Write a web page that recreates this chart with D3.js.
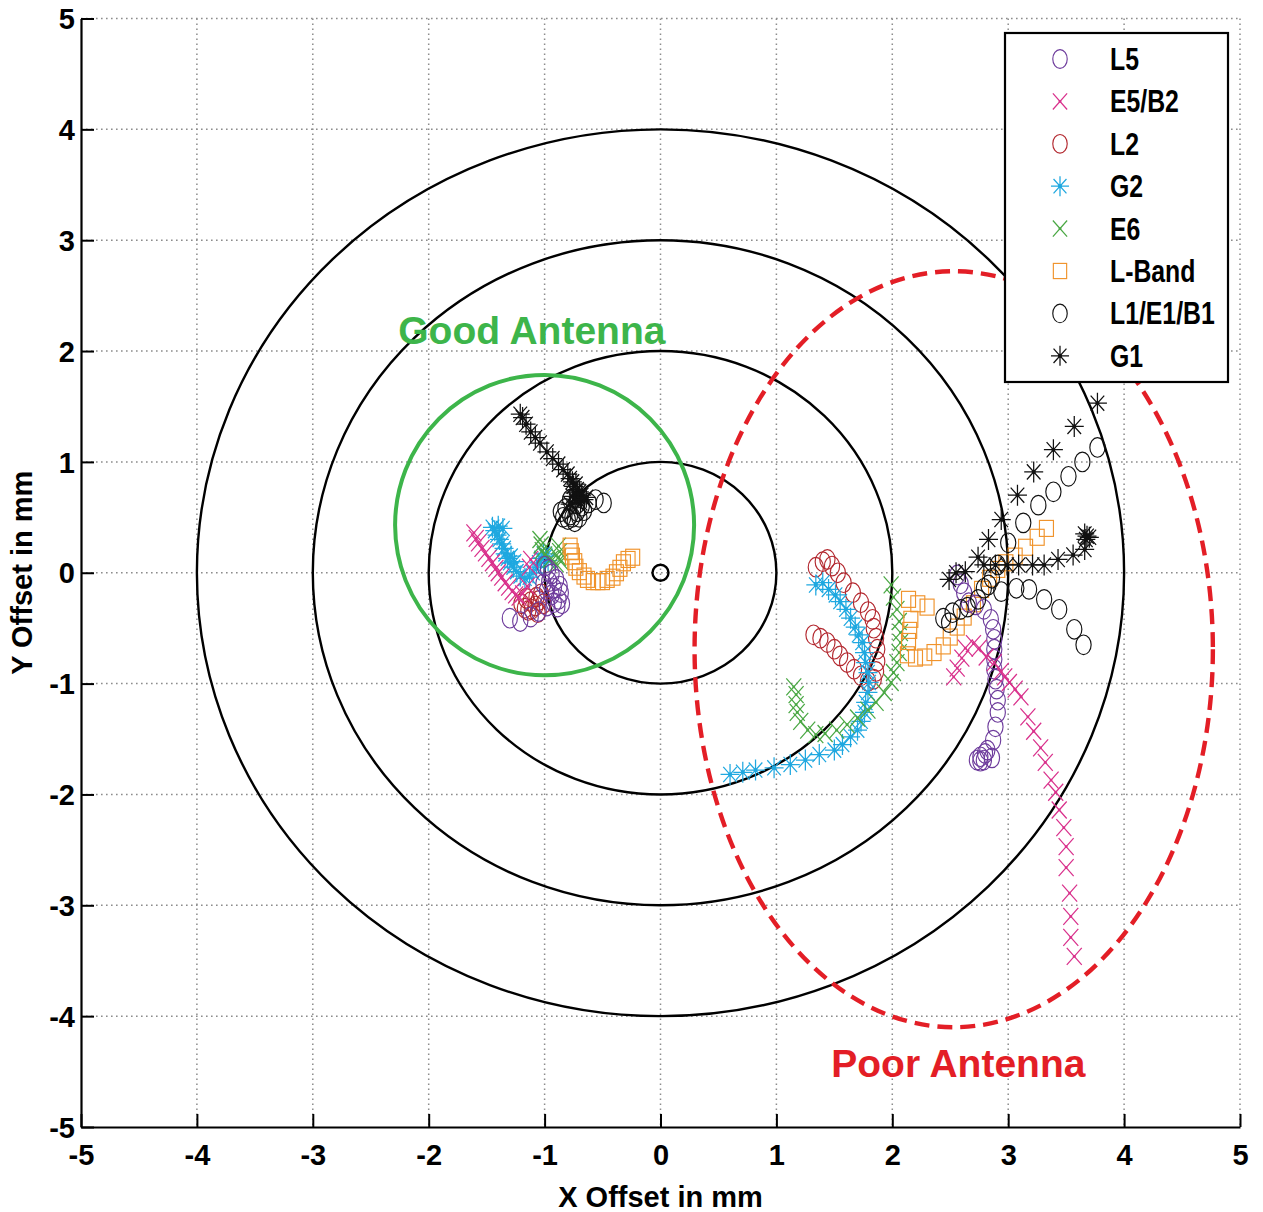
<!DOCTYPE html>
<html><head><meta charset="utf-8">
<script src="https://cdn.jsdelivr.net/npm/d3@7"></script>
<style>body{margin:0;background:#fff}svg{display:block}</style>
</head><body><svg id="chart" width="1263" height="1212"></svg>
<script>
const xTicks=[-5,-4,-3,-2,-1,0,1,2,3,4,5];
const yTicks=[-5,-4,-3,-2,-1,0,1,2,3,4,5];
const ringRadii=[1,2,3,4];
const seriesNames=["L5","E5/B2","L2","G2","E6","L-Band","L1/E1/B1","G1"];
const seriesColors=["#6e3c9c","#d9318c","#b3282f","#1fa8e0","#4aa844","#f0932b","#111111","#111111"];
const seriesMarkers=["circle","x","circle","star","x","square","circle","star"];

const L5=[[-1.30,-0.41],[-1.21,-0.44],[-1.12,-0.40],[-1.05,-0.35],[-0.98,-0.30],[-0.92,-0.27],[-0.88,-0.24],[-0.86,-0.18],[-0.87,-0.12],[-0.90,-0.06],[-0.94,-0.01],[-0.97,0.03],[-1.00,0.06],[-0.96,-0.08],[-0.92,-0.14],[-0.94,-0.20],[-0.98,-0.16],[-1.01,-0.10],[-0.85,-0.28],[-0.89,-0.31],
 [2.56,-0.02],[2.59,-0.10],[2.62,-0.18],[2.66,-0.27],[2.72,-0.29],[2.79,-0.33],[2.85,-0.42],[2.87,-0.51],[2.88,-0.60],[2.88,-0.69],[2.88,-0.78],[2.88,-0.87],[2.89,-0.96],[2.90,-1.05],[2.91,-1.15],[2.91,-1.26],[2.89,-1.39],[2.87,-1.51],[2.82,-1.60],[2.76,-1.66],[2.73,-1.69],[2.79,-1.69],[2.86,-1.67],[2.80,-1.63],[2.76,-1.70]];
const E5B2=[[-1.61,0.36],[-1.59,0.31],[-1.57,0.27],[-1.54,0.22],[-1.51,0.18],[-1.48,0.13],[-1.45,0.09],[-1.42,0.04],[-1.40,0.00],[-1.37,-0.04],[-1.34,-0.09],[-1.31,-0.13],[-1.28,-0.17],[-1.25,-0.20],[-1.22,-0.22],[-1.19,-0.19],[-1.15,-0.12],[-1.13,0.05],[-1.12,0.12],
 [2.53,-0.94],[2.56,-0.86],[2.60,-0.77],[2.63,-0.68],[2.70,-0.64],[2.75,-0.68],[2.81,-0.76],[2.88,-0.81],[2.94,-0.89],[2.97,-0.94],[3.01,-0.99],[3.06,-1.05],[3.11,-1.12],[3.17,-1.30],[3.22,-1.43],[3.28,-1.58],[3.32,-1.71],[3.37,-1.87],[3.41,-1.98],[3.44,-2.14],[3.48,-2.30],[3.50,-2.47],[3.50,-2.66],[3.53,-2.89],[3.54,-3.10],[3.54,-3.29],[3.57,-3.46]];
const L2=[[-1.20,-0.28],[-1.17,-0.32],[-1.14,-0.34],[-1.11,-0.33],[-1.08,-0.30],[-1.05,-0.25],[-1.03,-0.19],[-1.07,-0.22],[-1.12,-0.26],[-1.16,-0.23],[-1.01,-0.28],[-1.06,-0.36],
 [1.34,0.05],[1.40,0.10],[1.44,0.12],[1.48,0.06],[1.53,0.00],[1.58,-0.09],[1.66,-0.18],[1.73,-0.27],[1.79,-0.35],[1.83,-0.42],[1.84,-0.50],[1.86,-0.59],[1.87,-0.69],[1.87,-0.80],[1.86,-0.89],[1.84,-0.96],
 [1.32,-0.56],[1.38,-0.59],[1.44,-0.63],[1.50,-0.69],[1.55,-0.75],[1.61,-0.81],[1.67,-0.87],[1.73,-0.93],[1.79,-0.98]];
const G2=[[-1.45,0.41],[-1.43,0.38],[-1.41,0.34],[-1.39,0.30],[-1.37,0.26],[-1.35,0.22],[-1.34,0.17],[-1.32,0.13],[-1.30,0.09],[-1.27,0.05],[-1.24,0.01],[-1.21,-0.03],[-1.17,-0.05],[-1.13,-0.04],[-1.10,0.00],[-1.07,0.05],[-1.05,0.09],[-1.03,0.13],[-1.01,0.17],[-0.99,0.15],[-0.97,0.11],[-1.36,0.40],[-1.40,0.42],[-1.29,0.15],[-1.26,0.10],
 [1.34,-0.11],[1.40,-0.09],[1.45,-0.15],[1.51,-0.20],[1.55,-0.26],[1.60,-0.33],[1.64,-0.41],[1.68,-0.49],[1.71,-0.56],[1.74,-0.63],[1.76,-0.72],[1.77,-0.81],[1.79,-0.90],[1.80,-0.99],[1.79,-1.08],[1.77,-1.17],[1.76,-1.26],[1.73,-1.34],[1.70,-1.42],[1.64,-1.48],[1.57,-1.55],[1.50,-1.60],[1.37,-1.64],[1.25,-1.69],[1.12,-1.73],[0.98,-1.76],[0.82,-1.78],[0.71,-1.80],[0.60,-1.82]];
const E6=[[-1.04,0.30],[-1.03,0.25],[-1.02,0.20],[-1.00,0.16],[-0.88,0.24],[-0.87,0.19],[-0.88,0.14],[-0.86,0.10],[-0.90,0.08],[-0.95,0.12],
 [1.15,-1.03],[1.17,-1.10],[1.17,-1.19],[1.18,-1.26],[1.21,-1.34],[1.27,-1.42],[1.34,-1.46],[1.42,-1.45],[1.52,-1.42],[1.61,-1.37],[1.70,-1.31],[1.79,-1.24],[1.86,-1.17],[1.93,-1.08],[1.99,-0.99],[2.01,-0.90],[2.04,-0.81],[2.06,-0.72],[2.07,-0.63],[2.07,-0.54],[2.06,-0.44],[2.04,-0.33],[2.01,-0.22],[1.99,-0.11]];
const LBand=[[-0.78,0.24],[-0.77,0.19],[-0.76,0.15],[-0.74,0.10],[-0.73,0.05],[-0.70,0.01],[-0.66,-0.03],[-0.63,-0.06],[-0.58,-0.08],[-0.54,-0.08],[-0.50,-0.08],[-0.46,-0.06],[-0.41,-0.04],[-0.38,0.00],[-0.35,0.04],[-0.32,0.09],[-0.28,0.12],[-0.24,0.14],
 [2.14,-0.24],[2.22,-0.28],[2.30,-0.31],[2.16,-0.42],[2.15,-0.52],[2.14,-0.62],[2.13,-0.74],[2.20,-0.77],[2.28,-0.76],[2.36,-0.72],[2.44,-0.66],[2.50,-0.58],[2.56,-0.49],[2.62,-0.40],[2.70,-0.28],[2.77,-0.15],[2.84,-0.05],[2.91,0.03],[2.98,0.09],[3.06,0.15],[3.15,0.23],[3.25,0.32],[3.33,0.40]];
const L1E1B1=[[-0.49,0.63],[-0.56,0.66],[-0.62,0.63],[-0.68,0.60],[-0.72,0.55],[-0.76,0.50],[-0.80,0.48],[-0.84,0.50],[-0.86,0.55],[-0.82,0.58],[-0.78,0.52],[-0.74,0.46],[-0.70,0.50],[-0.66,0.56],[-0.72,0.62],[-0.78,0.66],
 [2.44,-0.41],[2.49,-0.45],[2.52,-0.36],[2.59,-0.33],[2.65,-0.31],[2.74,-0.24],[2.79,-0.14],[2.86,-0.05],[2.91,0.07],[3.00,0.27],[3.13,0.45],[3.26,0.61],[3.39,0.73],[3.52,0.87],[3.64,1.00],[3.77,1.13],
 [2.83,-0.11],[2.94,-0.17],[3.07,-0.14],[3.18,-0.15],[3.31,-0.24],[3.44,-0.33],[3.57,-0.51],[3.65,-0.65]];
const G1=[[-1.21,1.43],[-1.19,1.40],[-1.16,1.34],[-1.12,1.27],[-1.08,1.22],[-1.04,1.17],[-0.98,1.09],[-0.93,1.03],[-0.88,0.98],[-0.84,0.93],[-0.80,0.89],[-0.78,0.85],[-0.76,0.82],[-0.75,0.78],[-0.73,0.80],[-0.72,0.75],[-0.74,0.72],[-0.70,0.73],[-0.76,0.69],[-0.71,0.68],[-0.68,0.70],[-0.73,0.64],[-0.69,0.63],[-0.66,0.66],[-0.78,0.62],[-0.64,0.68],
 [2.49,-0.06],[2.55,0.00],[2.63,0.01],[2.74,0.14],[2.83,0.30],[2.94,0.48],[3.08,0.70],[3.22,0.91],[3.39,1.11],[3.57,1.32],[3.77,1.53],
 [2.79,0.07],[2.89,0.07],[2.99,0.07],[3.09,0.07],[3.21,0.07],[3.31,0.07],[3.43,0.12],[3.56,0.16],[3.66,0.21],[3.67,0.30],[3.68,0.33],[3.70,0.32],[3.66,0.35]];
const originMark=[[0,0]];
const goodZone={cx:-1.0,cy:0.43,rx:1.29,ry:1.355,label:"Good Antenna",lx:-1.11,ly:2.06};
const poorZone={cx:2.53,cy:-0.69,rx:2.236,ry:3.41,label:"Poor Antenna",lx:2.57,ly:-4.55};

const seriesData=[L5,E5B2,L2,G2,E6,LBand,L1E1B1,G1];
const drawOrder=[2,3,4,5,0,1,6,7];

const svg=d3.select("#chart");
const W=1263,H=1212;
svg.append("rect").attr("width",W).attr("height",H).attr("fill","#fff");
const x=d3.scaleLinear().domain([-5,5]).range([81,1240]);
const y=d3.scaleLinear().domain([-5,5]).range([1127,18.5]);
const FONT="'Liberation Sans', Arial, Helvetica, sans-serif";

// grid
const grid=svg.append("g").attr("stroke","#8c8c8c").attr("stroke-width",1.5).attr("stroke-dasharray","1.6,3.4");
grid.selectAll(".gx").data(xTicks.filter(d=>d>-5)).join("line").attr("x1",d=>x(d)).attr("x2",d=>x(d)).attr("y1",y(5)).attr("y2",y(-5));
grid.selectAll(".gy").data(yTicks.filter(d=>d>-5)).join("line").attr("y1",d=>y(d)).attr("y2",d=>y(d)).attr("x1",x(-5)).attr("x2",x(5));

// axes
const fmt=d=>String(d);
const xAxis=d3.axisBottom(x).tickValues(xTicks).tickSizeInner(-13).tickSizeOuter(0).tickPadding(17).tickFormat(fmt);
const yAxis=d3.axisLeft(y).tickValues(yTicks).tickSizeInner(-13).tickSizeOuter(0).tickPadding(6).tickFormat(fmt);
const gx=svg.append("g").attr("transform",`translate(0,${y(-5)})`).call(xAxis);
const gy=svg.append("g").attr("transform",`translate(${x(-5)},0)`).call(yAxis);
[gx,gy].forEach(g=>{
  g.select(".domain").attr("stroke","#000").attr("stroke-width",2.2);
  g.selectAll(".tick line").attr("stroke","#000").attr("stroke-width",2);
  g.selectAll(".tick text").attr("font-family",FONT).attr("font-weight","bold").attr("font-size",29).attr("fill","#000");
});
gx.selectAll(".tick text").attr("dy","0.71em");
gy.selectAll(".tick text").attr("dy","0.35em");

svg.append("text").attr("x",x(0)).attr("y",1207).attr("text-anchor","middle")
  .attr("font-family",FONT).attr("font-weight","bold").attr("font-size",29).text("X Offset in mm");
svg.append("text").attr("transform",`translate(32,${y(0)}) rotate(-90)`).attr("text-anchor","middle")
  .attr("font-family",FONT).attr("font-weight","bold").attr("font-size",29).text("Y Offset in mm");

// rings
svg.append("g").selectAll("ellipse").data(ringRadii).join("ellipse")
  .attr("cx",x(0)).attr("cy",y(0)).attr("rx",d=>x(d)-x(0)).attr("ry",d=>y(0)-y(d))
  .attr("fill","none").attr("stroke","#000").attr("stroke-width",2.4);

// markers
function drawMarker(sel,type,color,sc){
  sc=sc||1;
  if(type==="circle"){
    sel.append("ellipse").attr("rx",7.6*sc).attr("ry",9.8*sc).attr("fill","none").attr("stroke",color).attr("stroke-width",1.15);
  }else if(type==="x"){
    const a=7.5*sc,b=8.5*sc;
    sel.append("path").attr("d",`M${-a},${-b}L${a},${b}M${-a},${b}L${a},${-b}`).attr("stroke",color).attr("stroke-width",1.25).attr("fill","none");
    sel.append("circle").attr("r",1.4).attr("fill",color);
  }else if(type==="star"){
    const a=9.5*sc,b=10.5*sc,c=6.8*sc,e=7.6*sc;
    sel.append("path").attr("d",`M${-a},0L${a},0M0,${-b}L0,${b}M${-c},${-e}L${c},${e}M${-c},${e}L${c},${-e}`).attr("stroke",color).attr("stroke-width",1.25).attr("fill","none");
    sel.append("circle").attr("r",2).attr("fill",color);
  }else if(type==="square"){
    sel.append("rect").attr("x",-7*sc).attr("y",-8*sc).attr("width",14*sc).attr("height",16*sc).attr("fill","none").attr("stroke",color).attr("stroke-width",1.15);
  }
}
const pts=svg.append("g");
drawOrder.forEach(i=>{
  const g=pts.append("g");
  g.selectAll("g").data(seriesData[i]).join("g")
    .attr("transform",d=>`translate(${x(d[0])},${y(d[1])})`)
    .each(function(){drawMarker(d3.select(this),seriesMarkers[i],seriesColors[i]);});
});
svg.append("g").selectAll("ellipse").data(originMark).join("ellipse")
  .attr("cx",d=>x(d[0])).attr("cy",d=>y(d[1])).attr("rx",8).attr("ry",8)
  .attr("fill","none").attr("stroke","#000").attr("stroke-width",2.4);

// zones
svg.append("ellipse").attr("cx",x(goodZone.cx)).attr("cy",y(goodZone.cy))
  .attr("rx",x(goodZone.cx+goodZone.rx)-x(goodZone.cx)).attr("ry",y(goodZone.cy)-y(goodZone.cy+goodZone.ry))
  .attr("fill","none").attr("stroke","#3db54a").attr("stroke-width",4);
svg.append("ellipse").attr("cx",x(poorZone.cx)).attr("cy",y(poorZone.cy))
  .attr("rx",x(poorZone.cx+poorZone.rx)-x(poorZone.cx)).attr("ry",y(poorZone.cy)-y(poorZone.cy+poorZone.ry))
  .attr("fill","none").attr("stroke","#e31e26").attr("stroke-width",4.4).attr("stroke-dasharray","15,8");
svg.append("text").attr("x",x(goodZone.lx)).attr("y",y(goodZone.ly)).attr("text-anchor","middle")
  .attr("font-family",FONT).attr("font-weight","bold").attr("font-size",39).attr("fill","#3db54a").text(goodZone.label);
svg.append("text").attr("x",x(poorZone.lx)).attr("y",y(poorZone.ly)).attr("text-anchor","middle")
  .attr("font-family",FONT).attr("font-weight","bold").attr("font-size",39).attr("fill","#e31e26").text(poorZone.label);

// legend
const lg=svg.append("g");
lg.append("rect").attr("x",1005).attr("y",33).attr("width",223).attr("height",349).attr("fill","#fff").attr("stroke","#000").attr("stroke-width",2.2);
seriesNames.forEach((n,i)=>{
  const cy=59+i*42.4;
  const m=lg.append("g").attr("transform",`translate(1060,${cy})`);
  drawMarker(m,seriesMarkers[i],seriesColors[i],0.95);
  lg.append("g").attr("transform",`translate(1110,${cy+11}) scale(0.8,1)`).append("text")
    .attr("font-family",FONT).attr("font-weight","bold").attr("font-size",31).attr("fill","#000").text(n);
});
</script></body></html>
